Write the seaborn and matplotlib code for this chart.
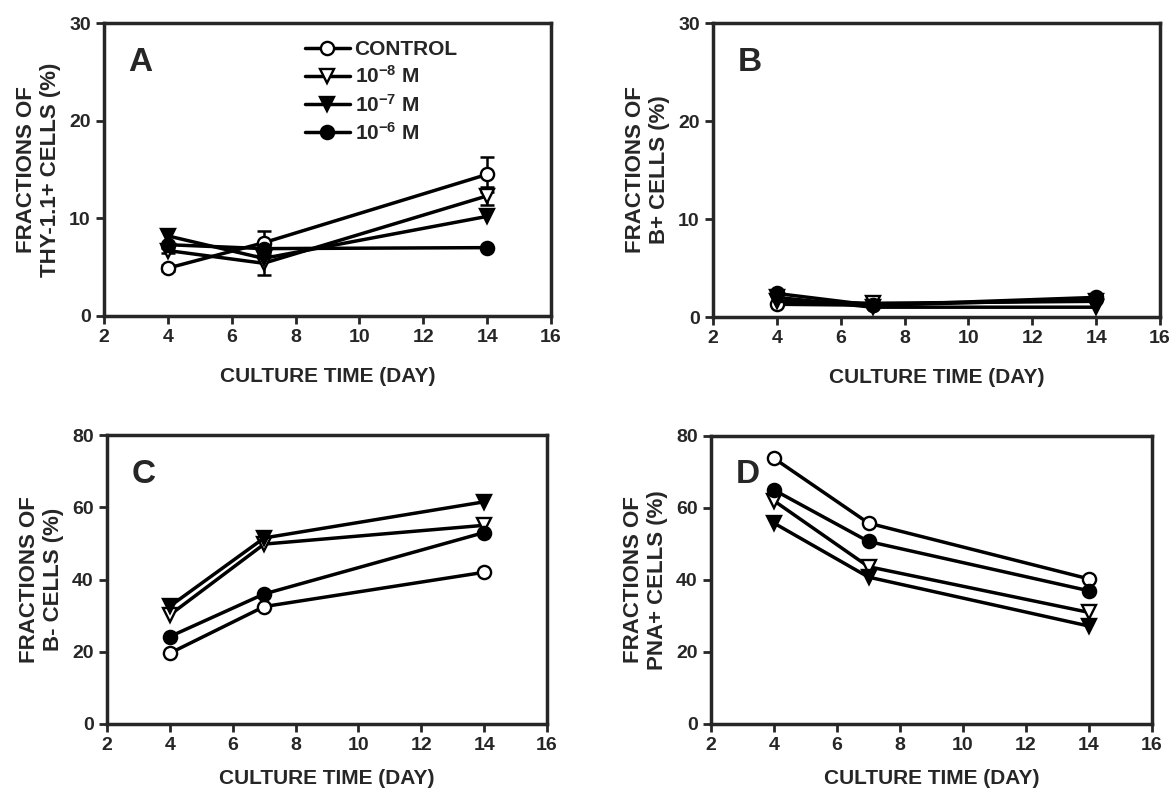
import matplotlib
matplotlib.use("Agg")
import matplotlib.pyplot as plt
import seaborn as sns
import pandas as pd

# culture days
days = [4, 7, 14]
series = ["CONTROL", "10$^{\\mathbf{-8}}$ M", "10$^{\\mathbf{-7}}$ M", "10$^{\\mathbf{-6}}$ M"]

# panel A: THY-1.1+
thy_control = [4.9, 7.5, 14.5]
thy_e8 = [6.7, 5.4, 12.3]
thy_e7 = [8.2, 5.9, 10.2]
thy_e6 = [7.3, 6.9, 7.0]
thy_control_err = [0.3, 1.2, 1.8]
thy_e8_err = [0.3, 1.2, 0.9]

# panel B: B+
bp_control = [1.3, 1.2, 2.0]
bp_e8 = [1.6, 1.4, 1.6]
bp_e7 = [2.0, 1.0, 1.0]
bp_e6 = [2.4, 1.2, 1.8]

# panel C: B-
bm_control = [19.6, 32.5, 42.0]
bm_e8 = [30.2, 49.8, 55.0]
bm_e7 = [32.6, 51.5, 61.5]
bm_e6 = [24.2, 36.0, 53.0]

# panel D: PNA+
pna_control = [73.8, 55.8, 40.3]
pna_e8 = [62.0, 43.7, 31.0]
pna_e7 = [55.8, 40.8, 27.2]
pna_e6 = [65.0, 50.7, 37.0]

styles = [("o", "white"), ("v", "white"), ("v", "black"), ("o", "black")]

sns.set_style("ticks")
plt.rcParams["font.family"] = ["Liberation Sans", "DejaVu Sans"]
plt.rcParams["font.weight"] = "bold"
plt.rcParams["mathtext.fontset"] = "custom"
plt.rcParams["mathtext.bf"] = "Liberation Sans:bold"
plt.rcParams["mathtext.rm"] = "Liberation Sans:bold"
plt.rcParams["mathtext.default"] = "bf"

fig = plt.figure(figsize=(11.72, 7.91), dpi=100)
W, H = 1172, 791


def make_ax(l, r, t, b):
    return fig.add_axes([l / W, 1 - b / H, (r - l) / W, (b - t) / H])


def draw_panel(ax, data, ymax, ystep, letter, ylabel, xpad, errs=None, legend=False):
    for i, (vals, name) in enumerate(zip(data, series)):
        m, fc = styles[i]
        if errs is not None and errs[i] is not None:
            ax.errorbar(days, vals, yerr=errs[i], fmt="none", ecolor="black",
                        elinewidth=1.8, capsize=5, capthick=1.8, zorder=1)
        df = pd.DataFrame({"day": days, "val": vals})
        sns.lineplot(data=df, x="day", y="val", ax=ax, color="black",
                     marker=m, markersize=9.5 if m == "o" else 10.5,
                     markerfacecolor=fc, markeredgecolor="black",
                     markeredgewidth=1.7, linewidth=2.5, label=name,
                     legend=False, zorder=2 + i)
    ax.set_xlim(2, 16)
    ax.set_ylim(0, ymax)
    ax.set_xticks(range(2, 17, 2))
    ax.set_yticks(range(0, ymax + 1, ystep))
    for s in ax.spines.values():
        s.set_visible(True)
        s.set_linewidth(2.5)
    ax.tick_params(width=2, length=6, labelsize=14, direction="out")
    for lab in ax.get_xticklabels() + ax.get_yticklabels():
        lab.set_fontweight("bold")
    ax.set_xlabel("CULTURE TIME (DAY)", fontsize=15, fontweight="bold", labelpad=xpad)
    ax.set_ylabel(ylabel, fontsize=16, fontweight="bold", labelpad=6)
    ax.text(0.055, 0.865, letter, transform=ax.transAxes, fontsize=24,
            fontweight="bold", va="center")
    if legend:
        h, l = ax.get_legend_handles_labels()
        ax.legend(h, l, loc="upper left", bbox_to_anchor=(0.43, 0.97),
                  frameon=False, fontsize=15, handlelength=2.2,
                  handletextpad=0.2, labelspacing=0.3, borderaxespad=0)


axA = make_ax(104, 551, 23, 316)
draw_panel(axA, [thy_control, thy_e8, thy_e7, thy_e6], 30, 10, "A",
           "FRACTIONS OF\nTHY-1.1+ CELLS (%)", 15,
           errs=[thy_control_err, thy_e8_err, None, None], legend=True)

axB = make_ax(713, 1160, 23, 317)
draw_panel(axB, [bp_control, bp_e8, bp_e7, bp_e6], 30, 10, "B",
           "FRACTIONS OF\nB+ CELLS (%)", 15)

axC = make_ax(107, 547, 435, 724)
draw_panel(axC, [bm_control, bm_e8, bm_e7, bm_e6], 80, 20, "C",
           "FRACTIONS OF\nB- CELLS (%)", 11)

axD = make_ax(711, 1152, 436, 724)
draw_panel(axD, [pna_control, pna_e8, pna_e7, pna_e6], 80, 20, "D",
           "FRACTIONS OF\nPNA+ CELLS (%)", 11)

fig.savefig("out.png", dpi=100)
